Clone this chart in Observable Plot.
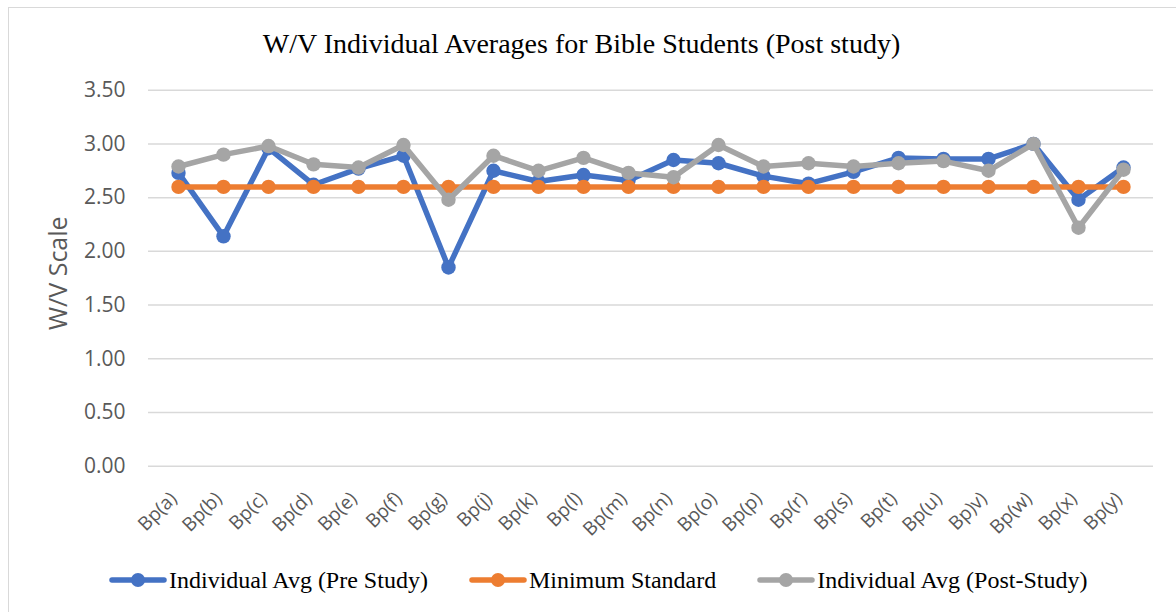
<!DOCTYPE html>
<html>
<head>
<meta charset="utf-8">
<script src="https://cdn.jsdelivr.net/npm/d3@7"></script>
<script src="https://cdn.jsdelivr.net/npm/@observablehq/plot@0.6"></script>
<style>
html, body { margin: 0; padding: 0; background: #fff; }
#wrap { position: relative; width: 1176px; height: 612px; overflow: hidden; background: #fff; }
#frame { position: absolute; left: 8px; top: 7px; width: 1300px; height: 800px; border: 1.5px solid #d9d9d9; box-sizing: border-box; }
#chart { position: absolute; left: 0; top: 0; }
#title { position: absolute; left: 0; top: 30px; width: 1163px; text-align: center; font-family: "Liberation Serif", serif; font-size: 28px; line-height: 28px; color: #000; white-space: nowrap; }
#legend { position: absolute; left: 109px; top: 568px; display: flex; align-items: center; font-family: "Liberation Serif", serif; font-size: 24px; line-height: 24px; color: #000; white-space: nowrap; }
.item { display: flex; align-items: center; margin-right: 41px; }
.item svg { margin-right: 2px; }
</style>
</head>
<body>
<div id="wrap">
  <div id="frame"></div>
  <div id="chart"></div>
  <div id="title"></div>
  <div id="legend"></div>
</div>
<script>
const chartTitle = "W/V Individual Averages for Bible Students (Post study)";
const yAxisTitle = "W/V Scale";
const categories = ["Bp(a)", "Bp(b)", "Bp(c)", "Bp(d)", "Bp(e)", "Bp(f)", "Bp(g)", "Bp(j)", "Bp(k)", "Bp(l)", "Bp(m)", "Bp(n)", "Bp(o)", "Bp(p)", "Bp(r)", "Bp(s)", "Bp(t)", "Bp(u)", "Bp)v)", "Bp(w)", "Bp(x)", "Bp(y)"];
const preStudy = [2.73, 2.14, 2.96, 2.62, 2.77, 2.89, 1.85, 2.75, 2.65, 2.71, 2.66, 2.85, 2.82, 2.70, 2.63, 2.74, 2.87, 2.86, 2.86, 3.00, 2.48, 2.78];
const minStandard = [2.6, 2.6, 2.6, 2.6, 2.6, 2.6, 2.6, 2.6, 2.6, 2.6, 2.6, 2.6, 2.6, 2.6, 2.6, 2.6, 2.6, 2.6, 2.6, 2.6, 2.6, 2.6];
const postStudy = [2.79, 2.90, 2.98, 2.81, 2.78, 2.99, 2.48, 2.89, 2.75, 2.87, 2.73, 2.69, 2.99, 2.79, 2.82, 2.79, 2.82, 2.84, 2.75, 3.00, 2.22, 2.76];
const yTicks = [0, 0.5, 1, 1.5, 2, 2.5, 3, 3.5];
const seriesNames = ["Individual Avg (Pre Study)", "Minimum Standard", "Individual Avg (Post-Study)"];
const seriesColors = ["#4472C4", "#ED7D31", "#A5A5A5"];
const seriesValues = [preStudy, minStandard, postStudy];

const tickFont = "Open Sans";
const textColor = "#595959";

const seriesMarks = seriesValues.flatMap((vals, s) => [
  Plot.line(categories, {x: d => d, y: (d, i) => vals[i], stroke: seriesColors[s], strokeWidth: 5.5, strokeLinejoin: "round", strokeLinecap: "round"}),
  Plot.dot(categories, {x: d => d, y: (d, i) => vals[i], fill: seriesColors[s], r: 7.2})
]);

const chart = Plot.plot({
  width: 1176,
  height: 545,
  marginLeft: 148,
  marginRight: 23,
  marginTop: 89.7,
  marginBottom: 79.3,
  style: {background: "transparent", overflow: "visible"},
  x: {type: "point", domain: categories, padding: 0.5, axis: null},
  y: {domain: [0, 3.5], axis: null},
  marks: [
    Plot.ruleY(yTicks, {stroke: "#d9d9d9", strokeWidth: 1.5}),
    Plot.text(yTicks, {y: d => d, text: d => d.toFixed(2), frameAnchor: "left", dx: -23, textAnchor: "end", fontSize: 21, fill: textColor, fontFamily: tickFont}),
    Plot.text(categories, {x: d => d, text: d => d, frameAnchor: "bottom", dx: -10, dy: 24, rotate: -45, textAnchor: "end", lineAnchor: "top", fontSize: 19, fill: textColor, fontFamily: tickFont}),
    Plot.text([yAxisTitle], {text: d => d, frameAnchor: "left", dx: -90, dy: -5, rotate: -90, textAnchor: "middle", fontSize: 25, fill: textColor, fontFamily: tickFont}),
    ...seriesMarks
  ]
});
document.getElementById("chart").appendChild(chart);
document.getElementById("title").textContent = chartTitle;

const legend = document.getElementById("legend");
seriesNames.forEach((name, s) => {
  const item = document.createElement("div");
  item.className = "item";
  item.innerHTML = `<svg width="58" height="18"><line x1="3" y1="9" x2="55" y2="9" stroke="${seriesColors[s]}" stroke-width="5.5" stroke-linecap="round"/><circle cx="29" cy="9" r="7" fill="${seriesColors[s]}"/></svg><span>${name}</span>`;
  legend.appendChild(item);
});
</script>
</body>
</html>
